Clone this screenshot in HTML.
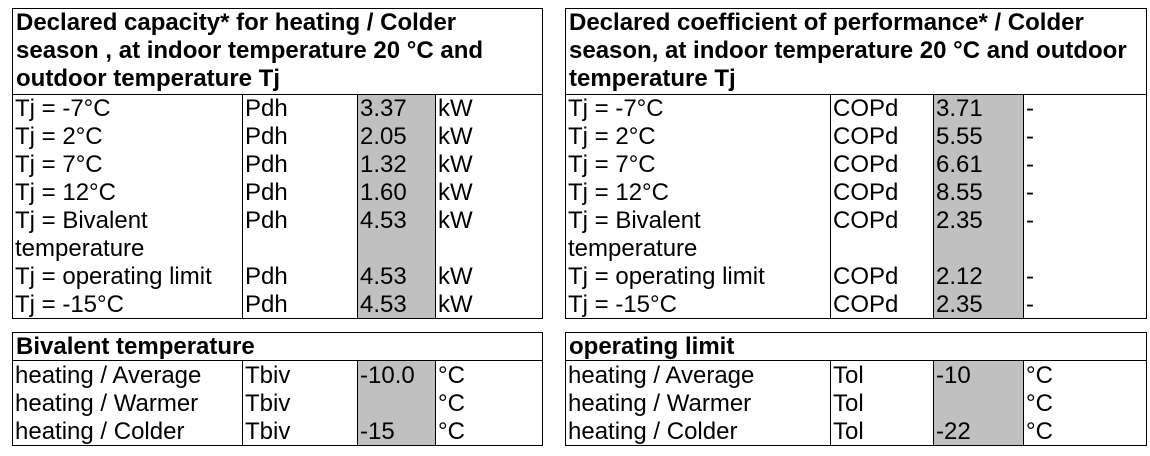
<!DOCTYPE html>
<html><head><meta charset="utf-8"><style>
body{margin:0;width:1150px;height:456px;background:#fff;position:relative;overflow:hidden;font-family:"Liberation Sans",Arial,sans-serif;color:#000}
.b{position:absolute;border:1px solid #000;box-sizing:border-box}
.v{position:absolute;width:1px;background:#000}
.h{position:absolute;height:1px;background:#000}
.g{position:absolute;background:#c0c0c0}
.t{position:absolute;font-size:24px;line-height:28px;white-space:nowrap}
.bo{font-weight:bold}
</style></head><body>
<div class="g" style="left:358px;top:95px;width:77px;height:223px"></div>
<div class="g" style="left:934px;top:95px;width:89px;height:223px"></div>
<div class="g" style="left:358px;top:361px;width:77px;height:84px"></div>
<div class="g" style="left:934px;top:361px;width:89px;height:84px"></div>
<div class="b" style="left:12px;top:8px;width:531px;height:311px"></div>
<div class="b" style="left:565px;top:8px;width:582px;height:311px"></div>
<div class="b" style="left:12px;top:332px;width:531px;height:114px"></div>
<div class="b" style="left:565px;top:332px;width:582px;height:114px"></div>
<div class="h" style="left:12px;top:94px;width:531px"></div>
<div class="h" style="left:565px;top:94px;width:582px"></div>
<div class="h" style="left:12px;top:360px;width:531px"></div>
<div class="h" style="left:565px;top:360px;width:582px"></div>
<div class="v" style="left:242px;top:94px;height:224px"></div>
<div class="v" style="left:357px;top:94px;height:224px"></div>
<div class="v" style="left:435px;top:94px;height:224px"></div>
<div class="v" style="left:830px;top:94px;height:224px"></div>
<div class="v" style="left:933px;top:94px;height:224px"></div>
<div class="v" style="left:1023px;top:94px;height:224px"></div>
<div class="v" style="left:242px;top:360px;height:85px"></div>
<div class="v" style="left:357px;top:360px;height:85px"></div>
<div class="v" style="left:435px;top:360px;height:85px"></div>
<div class="v" style="left:830px;top:360px;height:85px"></div>
<div class="v" style="left:933px;top:360px;height:85px"></div>
<div class="v" style="left:1023px;top:360px;height:85px"></div>
<div class="t bo" style="left:16px;top:9px">Declared capacity* for heating / Colder<br>season , at indoor temperature 20 °C and<br>outdoor temperature Tj</div>
<div class="t bo" style="left:569px;top:9px">Declared coefficient of performance* / Colder<br>season, at indoor temperature 20 °C and outdoor<br>temperature Tj</div>
<div class="t bo" style="left:16px;top:333px">Bivalent temperature</div>
<div class="t bo" style="left:569px;top:333px">operating limit</div>
<div class="t" style="left:15px;top:95px">Tj = -7°C<br>Tj = 2°C<br>Tj = 7°C<br>Tj = 12°C<br>Tj = Bivalent<br>temperature<br>Tj = operating limit<br>Tj = -15°C</div>
<div class="t" style="left:245px;top:95px">Pdh<br>Pdh<br>Pdh<br>Pdh<br>Pdh<br>&nbsp;<br>Pdh<br>Pdh</div>
<div class="t" style="left:360px;top:95px">3.37<br>2.05<br>1.32<br>1.60<br>4.53<br>&nbsp;<br>4.53<br>4.53</div>
<div class="t" style="left:438px;top:95px">kW<br>kW<br>kW<br>kW<br>kW<br>&nbsp;<br>kW<br>kW</div>
<div class="t" style="left:568px;top:95px">Tj = -7°C<br>Tj = 2°C<br>Tj = 7°C<br>Tj = 12°C<br>Tj = Bivalent<br>temperature<br>Tj = operating limit<br>Tj = -15°C</div>
<div class="t" style="left:833px;top:95px">COPd<br>COPd<br>COPd<br>COPd<br>COPd<br>&nbsp;<br>COPd<br>COPd</div>
<div class="t" style="left:936px;top:95px">3.71<br>5.55<br>6.61<br>8.55<br>2.35<br>&nbsp;<br>2.12<br>2.35</div>
<div class="t" style="left:1026px;top:95px">-<br>-<br>-<br>-<br>-<br>&nbsp;<br>-<br>-</div>
<div class="t" style="left:15px;top:362px">heating / Average<br>heating / Warmer<br>heating / Colder</div>
<div class="t" style="left:245px;top:362px">Tbiv<br>Tbiv<br>Tbiv</div>
<div class="t" style="left:360px;top:362px">-10.0<br>&nbsp;<br>-15</div>
<div class="t" style="left:438px;top:362px">°C<br>°C<br>°C</div>
<div class="t" style="left:568px;top:362px">heating / Average<br>heating / Warmer<br>heating / Colder</div>
<div class="t" style="left:833px;top:362px">Tol<br>Tol<br>Tol</div>
<div class="t" style="left:936px;top:362px">-10<br>&nbsp;<br>-22</div>
<div class="t" style="left:1026px;top:362px">°C<br>°C<br>°C</div>
</body></html>
